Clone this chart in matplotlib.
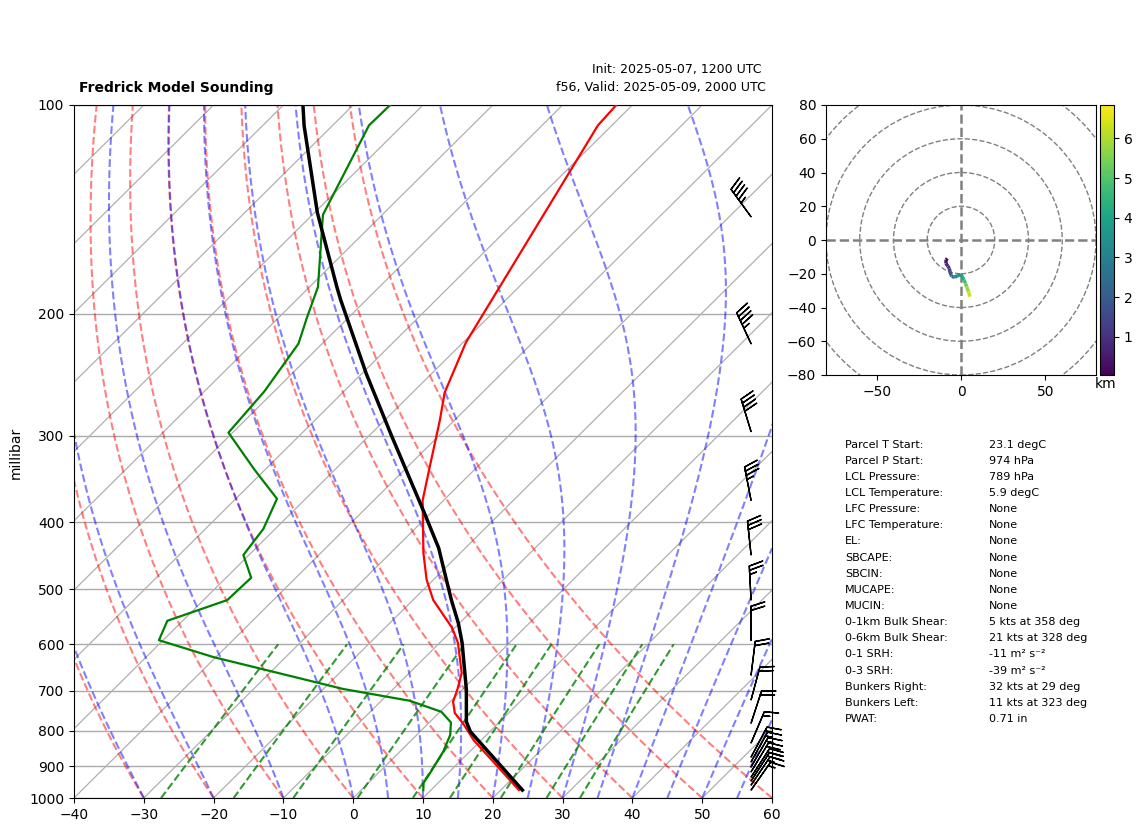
import numpy as np
import matplotlib
matplotlib.use('Agg')
import matplotlib.pyplot as plt
from matplotlib.collections import LineCollection
from matplotlib.ticker import NullFormatter, NullLocator, ScalarFormatter

# sounding
temp_p = [974, 802, 776, 698, 597, 559, 518, 474, 436, 390, 300, 244, 191, 183, 143, 107, 100]
temp_t = [23.1, 7.2, 5.2, 0.6, -6.8, -10.2, -14.5, -19.3, -23.8, -30.6, -46.8, -59.4, -73.7, -76.1,
          -89.6, -104.1, -107.2]

dew_p = [974, 951, 920, 857, 811, 778, 751, 724, 696, 626, 592, 555, 518, 481, 446, 409, 370, 336, 297,
         259, 221, 203, 183, 144, 107, 100]
dew_t = [8.9, 7.9, 7.4, 6.2, 4.8, 3.1, 0.2, -5.9, -17.2, -40.4, -50.6, -52.2, -46.6, -46.4, -50.8, -51.7, -54.1,
         -61.5, -70.6, -71.4, -73.4, -75.9, -78.8, -88.5, -94.8, -94.7]

parcel_p = [974, 825, 784, 754, 726, 698, 660, 597, 568, 518, 484, 443, 372, 332, 285, 260, 220, 107, 100]
parcel_t = [22.6, 8.9, 5.3, 2.3, 0.4, -0.7, -2.5, -7.4, -10.4, -17.1, -21.0, -25.3, -33.0, -36.9, -42.1, -45.4,
            -49.6, -62.0, -62.3]

# wind barbs
wind_p = [145, 221, 296, 372, 446, 518, 592, 665, 722, 780, 833, 873, 887, 902, 917, 933, 945, 958, 974]
wind_dir = [324, 335, 343, 349, 354, 357, 0, 7, 15, 18, 23, 28, 29, 30, 31, 33, 33, 34, 35]
wind_spd = [45, 45, 40, 35, 30, 25, 20, 20, 20, 20, 15, 15, 15, 15, 20, 20, 20, 15, 15]

# hodograph
hodo_u = [-8.1, -8.8, -9.0, -8.9, -7.8, -6.9, -6.6, -5.9, -5.5, -4.6, -3.6, -2.2, -0.2, 0.8, 1.8, 2.6, 3.4, 4.4, 5.3]
hodo_v = [-10.9, -11.8, -13.0, -13.8, -15.5, -16.8, -18.6, -20.7, -21.6, -21.8, -22.1, -21.2, -20.4, -21.8, -23.7, -25.6, -27.7, -30.5, -33.6]
hodo_h = [0.1, 0.3, 0.55, 0.8, 1.1, 1.4, 1.8, 2.2, 2.5, 2.8, 3.0, 3.4, 3.8, 4.3, 4.8, 5.3, 5.8, 6.3, 6.84]

table_labels = ['Parcel T Start:', 'Parcel P Start:', 'LCL Pressure:', 'LCL Temperature:',
                'LFC Pressure:', 'LFC Temperature:', 'EL:', 'SBCAPE:', 'SBCIN:', 'MUCAPE:',
                'MUCIN:', '0-1km Bulk Shear:', '0-6km Bulk Shear:', '0-1 SRH:', '0-3 SRH:',
                'Bunkers Right:', 'Bunkers Left:', 'PWAT:']
table_values = ['23.1 degC', '974 hPa', '789 hPa', '5.9 degC', 'None', 'None', 'None', 'None',
                'None', 'None', 'None', '5 kts at 358 deg', '21 kts at 328 deg',
                '-11 m\u00b2 s\u207b\u00b2', '-39 m\u00b2 s\u207b\u00b2',
                '32 kts at 29 deg', '11 kts at 323 deg', '0.71 in']

SKEW = 100.0
W, H = 1142.0, 832.0


def skew(t, p):
    return np.asarray(t) + SKEW * np.log10(1000.0 / np.asarray(p))


def moist_adiabat(t0, p):
    t = t0 + 273.15
    out = [t]
    for i in range(1, len(p)):
        es = 6.112 * np.exp(17.67 * (t - 273.15) / (t - 29.65))
        rs = 0.622 * es / (p[i - 1] - es)
        dtdp = (287.0 * t + 2.501e6 * rs) / (1005.0 + 2.501e6 ** 2 * rs * 0.622 / (287.0 * t ** 2)) / p[i - 1]
        t = t + dtdp * (p[i] - p[i - 1])
        out.append(t)
    return np.array(out) - 273.15


fig = plt.figure(figsize=(W / 100, H / 100), dpi=100)
ax = fig.add_axes([74 / W, 1 - 798 / H, 698 / W, 693 / H])
ax.set_yscale('log')

p_all = np.linspace(1000, 100, 1800)
p_top = np.linspace(1000, 600, 50)

for t in np.arange(-140, 61, 10):
    ax.plot(skew([t, t], [1000, 100]), [1000, 100], color='#b0b0b0', lw=0.9, zorder=1)

for t0 in np.arange(-40, 61, 10):
    ax.plot(skew((t0 + 273.15) * (p_all / 1000) ** 0.2854 - 273.15, p_all), p_all,
            color='r', ls='--', alpha=0.5, lw=1.5, zorder=2)

for t0 in np.r_[np.arange(-40, 1, 10), np.arange(5, 61, 5)]:
    ax.plot(skew(moist_adiabat(t0, p_all), p_all), p_all, color='b', ls='--', alpha=0.5, lw=1.5, zorder=2)

for w in [0.0004, 0.001, 0.002, 0.004, 0.007, 0.01, 0.016, 0.024, 0.032]:
    lg = np.log(p_top * w / (0.622 + w) / 6.112)
    ax.plot(skew(243.5 * lg / (17.67 - lg), p_top), p_top, color='g', ls='--', alpha=0.8, lw=1.5, zorder=2)

ax.plot(skew(parcel_t, parcel_p), parcel_p, color='r', lw=1.6, zorder=4)
ax.plot(skew(dew_t, dew_p), dew_p, color='g', lw=1.6, zorder=4)
ax.plot(skew(temp_t, temp_p), temp_p, color='k', lw=2.5, zorder=5)

wd = np.radians(wind_dir)
ax.barbs(np.full(len(wind_p), 0.97), wind_p, -np.array(wind_spd) * np.sin(wd), -np.array(wind_spd) * np.cos(wd),
         transform=ax.get_yaxis_transform(), length=7, clip_on=False, zorder=6)

ax.set_xlim(-40, 60)
ax.set_ylim(1000, 100)
ax.set_xticks(np.arange(-40, 61, 10))
ax.set_yticks(np.arange(100, 1001, 100))
ax.yaxis.set_major_formatter(ScalarFormatter())
ax.yaxis.set_minor_locator(NullLocator())
ax.yaxis.set_minor_formatter(NullFormatter())
ax.grid(True, axis='y', color='#aaaaaa', lw=1, zorder=1)
ax.set_axisbelow(True)
fig.text(16 / W, 1 - 453 / H, 'millibar', rotation=90, ha='center', va='center', fontsize=10)

fig.text(79 / W, 1 - 88 / H, 'Fredrick Model Sounding', fontweight='bold', fontsize=10, ha='left', va='center')
fig.text(762 / W, 1 - 70 / H, 'Init: 2025-05-07, 1200 UTC', fontsize=9, ha='right', va='center')
fig.text(766 / W, 1 - 88 / H, 'f56, Valid: 2025-05-09, 2000 UTC', fontsize=9.1, ha='right', va='center')

# hodograph
hx = fig.add_axes([826 / W, 1 - 375 / H, 270 / W, 270 / H])
for r in [20, 40, 60, 80, 100]:
    hx.add_patch(plt.Circle((0, 0), r, fill=False, color='gray', ls='--', lw=1))
hx.axhline(0, color='gray', ls='--', lw=1.8)
hx.axvline(0, color='gray', ls='--', lw=1.8)
pts = np.column_stack([hodo_u, hodo_v])
lc = LineCollection(np.stack([pts[:-1], pts[1:]], axis=1), cmap='viridis', lw=2.5)
lc.set_array(np.array(hodo_h[:-1]))
lc.set_clim(0.04, 6.84)
hx.add_collection(lc)
hx.set_xlim(-80, 80)
hx.set_ylim(-80, 80)
hx.set_xticks([-50, 0, 50])
hx.set_yticks(np.arange(-80, 81, 20))

cax = fig.add_axes([1100 / W, 1 - 375 / H, 14 / W, 270 / H])
cb = fig.colorbar(lc, cax=cax)
cb.set_ticks([1, 2, 3, 4, 5, 6])
fig.text(1106 / W, 1 - 384 / H, 'km', fontsize=10, ha='center', va='center')

for i in range(len(table_labels)):
    y = 1 - (444.5 + i * 16.15) / H
    fig.text(845 / W, y, table_labels[i], fontsize=8, ha='left', va='center')
    fig.text(989 / W, y, table_values[i], fontsize=8, ha='left', va='center')

fig.savefig('out.png', dpi=100)
